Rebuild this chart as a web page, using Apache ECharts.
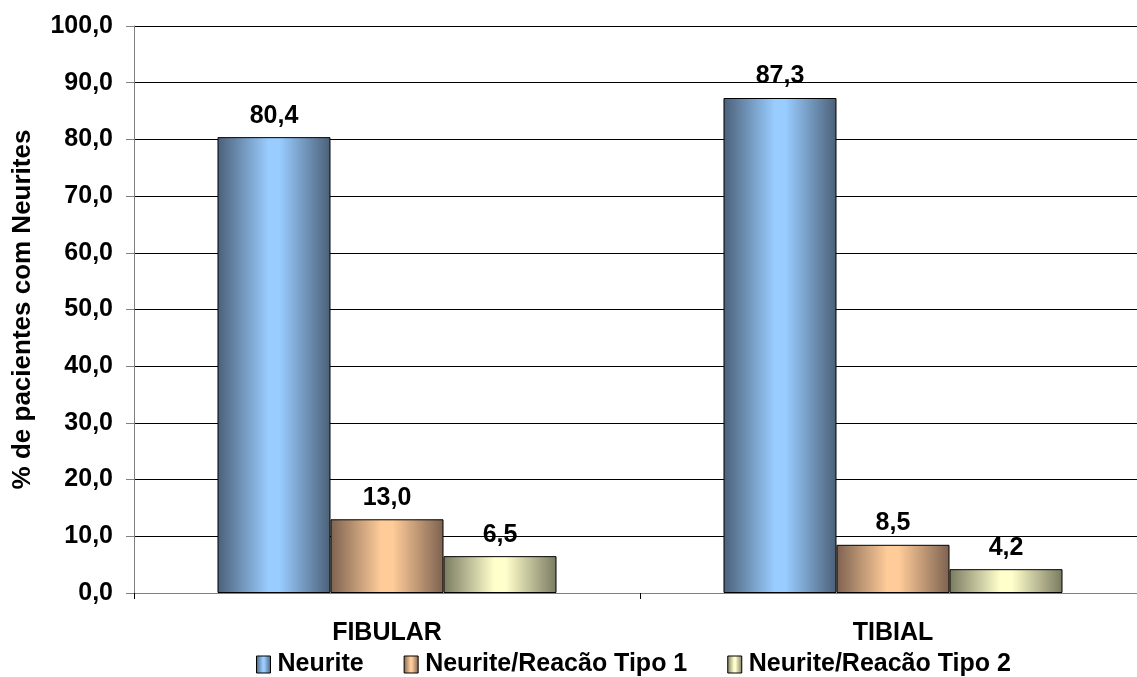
<!DOCTYPE html>
<html>
<head>
<meta charset="utf-8">
<script src="https://cdn.jsdelivr.net/npm/echarts@6/dist/echarts.min.js"></script>
<style>
  html, body { margin: 0; padding: 0; background: #fff; overflow: hidden; }
  /* the plot runs a few pixels past the right edge of the page */
  #chart { width: 1146px; height: 677px; }
</style>
</head>
<body>
<div id="chart"></div>
<script>
// Percent of patients with neuritis, by nerve
const categories = ['FIBULAR', 'TIBIAL'];
const seriesNames = ['Neurite', 'Neurite/Reacão Tipo 1', 'Neurite/Reacão Tipo 2'];
const neurite = [80.4, 87.3];
const reacaoTipo1 = [13.0, 8.5];
const reacaoTipo2 = [6.5, 4.2];
const yTicks = { min: 0, max: 100, interval: 10 };

const FONT = '"Liberation Sans", Arial, sans-serif';

// cylinder-like shading: dark edges, light centre
function shade(edge, mid) {
  return new echarts.graphic.LinearGradient(0, 0, 1, 0, [
    { offset: 0, color: edge },
    { offset: 0.45, color: mid },
    { offset: 0.55, color: mid },
    { offset: 1, color: edge }
  ]);
}
const palette = [
  shade('#4b6078', '#99ccff'),
  shade('#7d6250', '#ffcc99'),
  shade('#7a7a62', '#ffffcc')
];

function barSeries(name, data, i) {
  return {
    name: name,
    type: 'bar',
    data: data,
    barGap: '0%',
    barCategoryGap: '33%',
    itemStyle: { color: palette[i], borderColor: '#000', borderWidth: 1 },
    label: {
      show: true,
      position: 'top',
      distance: 9,
      fontFamily: FONT,
      fontWeight: 'bold',
      fontSize: 25,
      color: '#000',
      formatter: p => p.value.toFixed(1).replace('.', ',')
    }
  };
}

const chart = echarts.init(document.getElementById('chart'), null, { renderer: 'canvas' });
chart.setOption({
  animation: false,
  backgroundColor: '#fff',
  grid: { left: 134, right: 0, top: 26, height: 567, containLabel: false },
  legend: {
    left: 251,
    bottom: -5,
    icon: 'rect',
    itemWidth: 14,
    itemHeight: 17,
    itemGap: 40,
    textStyle: { fontFamily: FONT, fontWeight: 'bold', fontSize: 25, color: '#000', padding: [0, 0, 0, 2] },
    data: seriesNames.map((n, i) => ({ name: n, itemStyle: { color: palette[i], borderColor: '#000', borderWidth: 1 } }))
  },
  xAxis: {
    type: 'category',
    data: categories,
    axisLine: { lineStyle: { color: '#808080', width: 1 } },
    axisTick: { show: true, length: 6, lineStyle: { color: '#000' } },
    axisLabel: { fontFamily: FONT, fontWeight: 'bold', fontSize: 25, color: '#000', margin: 28 }
  },
  yAxis: {
    type: 'value',
    min: yTicks.min,
    max: yTicks.max,
    interval: yTicks.interval,
    name: '% de pacientes com Neurites',
    nameLocation: 'middle',
    nameGap: 98,
    nameRotate: 90,
    nameTextStyle: { fontFamily: FONT, fontWeight: 'bold', fontSize: 26, color: '#000' },
    axisLine: { show: true, lineStyle: { color: '#808080', width: 1 } },
    axisTick: { show: true, length: 8, inside: false, lineStyle: { color: '#808080' } },
    splitLine: { lineStyle: { color: '#000', width: 1 } },
    axisLabel: {
      fontFamily: FONT, fontWeight: 'bold', fontSize: 25, color: '#000', margin: 21,
      formatter: v => v.toFixed(1).replace('.', ',')
    }
  },
  series: [
    barSeries(seriesNames[0], neurite, 0),
    barSeries(seriesNames[1], reacaoTipo1, 1),
    barSeries(seriesNames[2], reacaoTipo2, 2)
  ]
});
</script>
</body>
</html>
